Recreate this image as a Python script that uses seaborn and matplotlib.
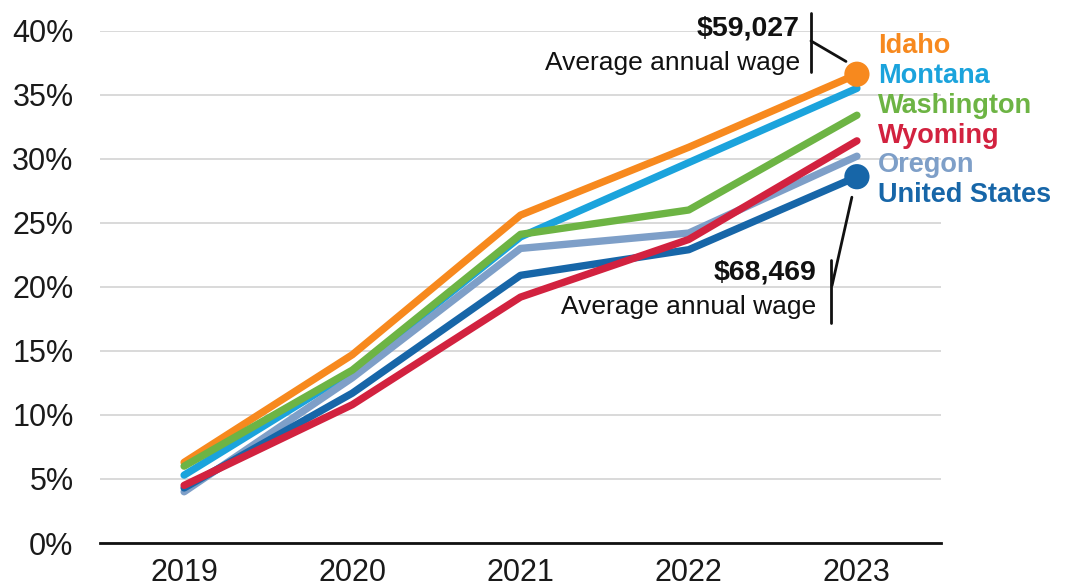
import matplotlib
matplotlib.use("Agg")
import matplotlib.pyplot as plt
import seaborn as sns
import pandas as pd

# Cumulative wage growth since 2018, by state
years = [2019, 2020, 2021, 2022, 2023]
idaho = [6.3, 14.7, 25.6, 30.9, 36.6]
montana = [5.3, 13.4, 23.9, 29.7, 35.5]
washington = [6.0, 13.5, 24.1, 26.0, 33.4]
wyoming = [4.5, 10.8, 19.2, 23.7, 31.4]
oregon = [4.0, 12.9, 23.0, 24.2, 30.2]
united_states = [4.3, 11.7, 20.9, 22.9, 28.6]

regions = ["Idaho", "Montana", "Washington", "Wyoming", "Oregon", "United States"]
series = [idaho, montana, washington, wyoming, oregon, united_states]
colors = {
    "Idaho": "#F7891E",
    "Montana": "#1BA3DC",
    "Washington": "#6DB444",
    "Wyoming": "#D2223F",
    "Oregon": "#7E9FC8",
    "United States": "#1766A8",
}
draw_order = ["Idaho", "Montana", "Oregon", "United States", "Washington", "Wyoming"]

df = pd.DataFrame(
    [(r, y, v) for r, vals in zip(regions, series) for y, v in zip(years, vals)],
    columns=["region", "year", "growth"],
)

sns.set_theme(style="white")
plt.rcParams["font.family"] = ["Liberation Sans", "DejaVu Sans"]

fig = plt.figure(figsize=(10.73, 5.88), dpi=100)
ax = fig.add_axes([0.0932, 0.0765, 0.7838, 0.8713])

sns.lineplot(
    data=df, x="year", y="growth", hue="region", hue_order=draw_order,
    palette=colors, linewidth=5.3, legend=False, ax=ax,
    solid_capstyle="round", solid_joinstyle="round",
)

# End-point dots for Idaho and the national average
ends = df[(df["year"] == 2023) & (df["region"].isin(["Idaho", "United States"]))]
sns.scatterplot(
    data=ends, x="year", y="growth", hue="region", palette=colors,
    s=330, linewidth=0, legend=False, ax=ax, zorder=5, clip_on=False,
)

ax.set_xlim(2018.5, 2023.5)
ax.set_ylim(0, 40)
ax.set_xticks(years)
ax.set_xticklabels([str(y) for y in years])
ax.set_yticks(range(0, 41, 5))
ax.set_yticklabels([f"{v}%" for v in range(0, 41, 5)])
ax.tick_params(axis="both", length=0, labelsize=22, colors="#1a1a1a")
ax.tick_params(axis="y", pad=19)
ax.tick_params(axis="x", pad=11)
ax.set_xlabel("")
ax.set_ylabel("")
ax.grid(axis="y", color="#d9d9d9", linewidth=1.4)
ax.set_axisbelow(True)
for side in ["left", "right", "top"]:
    ax.spines[side].set_visible(False)
ax.spines["bottom"].set_color("#111111")
ax.spines["bottom"].set_linewidth(2)

# Direct labels to the right of the lines
label_y = [38.8, 36.45, 34.1, 31.8, 29.5, 27.2]
for name, yv in zip(regions, label_y):
    ax.text(2023.125, yv, name, color=colors[name], fontsize=19.5, fontweight="bold",
            ha="left", va="center", clip_on=False)

# Average annual wage callouts
ax.text(2022.66, 40.2, "$59,027", fontsize=20.5, fontweight="bold", color="#111111",
        ha="right", va="center", clip_on=False)
ax.text(2022.66, 37.5, "Average annual wage", fontsize=19, color="#111111",
        ha="right", va="center", clip_on=False)
ax.plot([2022.727, 2022.727], [41.4, 36.8], color="#111111", lw=2, clip_on=False)
ax.plot([2022.727, 2022.935], [39.2, 37.6], color="#111111", lw=2, clip_on=False)

ax.text(2022.76, 21.1, "$68,469", fontsize=20.5, fontweight="bold", color="#111111",
        ha="right", va="center", clip_on=False)
ax.text(2022.76, 18.4, "Average annual wage", fontsize=19, color="#111111",
        ha="right", va="center", clip_on=False)
ax.plot([2022.846, 2022.846], [22.1, 17.2], color="#111111", lw=2, clip_on=False)
ax.plot([2022.97, 2022.852], [27.0, 20.1], color="#111111", lw=2, clip_on=False)

fig.savefig("out.png", dpi=100, facecolor="white")
